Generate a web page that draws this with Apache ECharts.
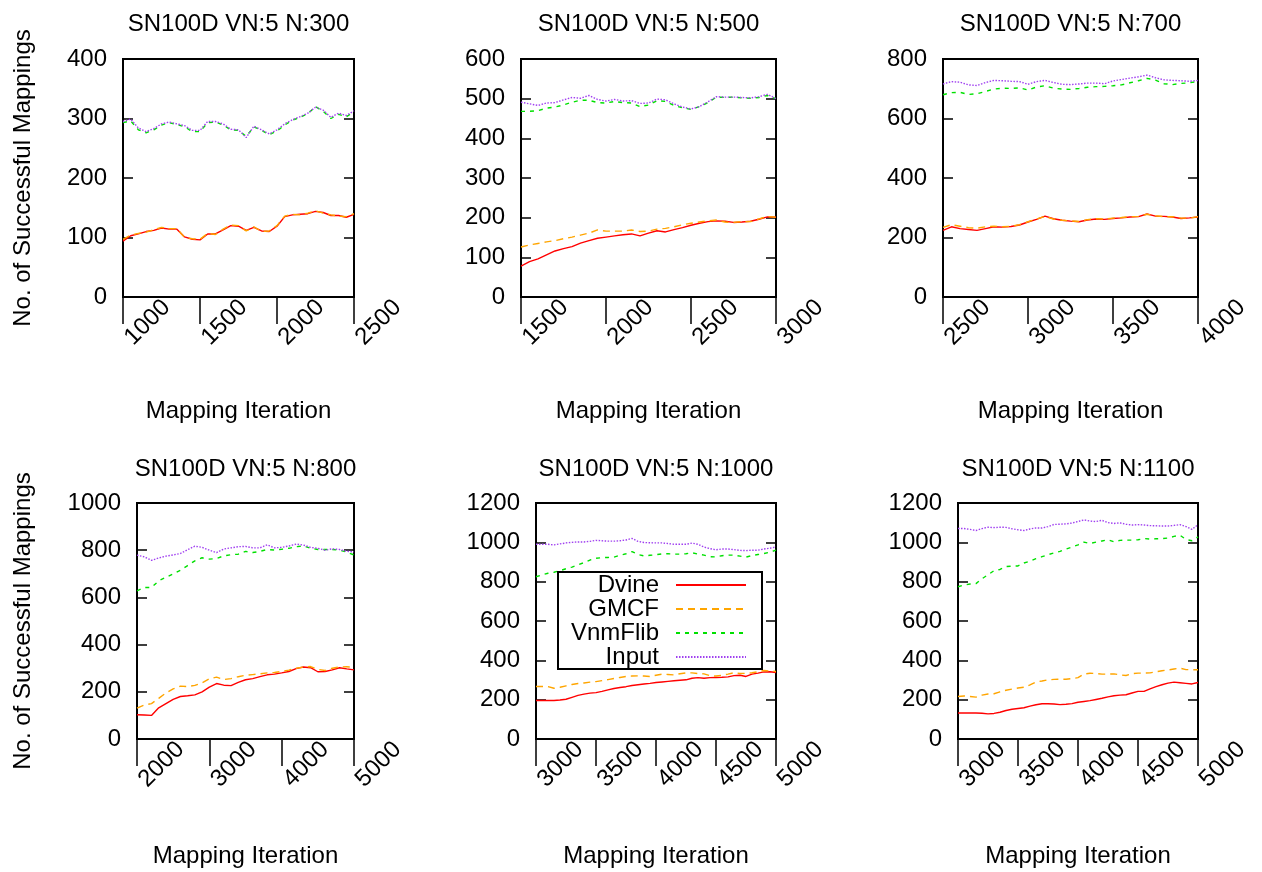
<!DOCTYPE html>
<html>
<head>
<meta charset="utf-8">
<script src="https://cdn.jsdelivr.net/npm/echarts@6/dist/echarts.min.js"></script>
<style>
html,body{margin:0;padding:0;background:#fff;}
#chart{width:1262px;height:872px;}
</style>
</head>
<body>
<div id="chart"></div>
<script>
// ---------- data ----------
const seriesNames = ['Dvine', 'GMCF', 'VnmFlib', 'Input'];
const titles = ['SN100D VN:5 N:300', 'SN100D VN:5 N:500', 'SN100D VN:5 N:700',
                'SN100D VN:5 N:800', 'SN100D VN:5 N:1000', 'SN100D VN:5 N:1100'];
const xAxisName = 'Mapping Iteration';
const yAxisName = 'No. of Successful Mappings';

const xs300 = [1000,1050,1100,1150,1200,1250,1300,1350,1400,1450,1500,1550,1600,1650,1700,1750,1800,1850,1900,1950,2000,2050,2100,2150,2200,2250,2300,2350,2400,2450,2500];
const dvine300 = [94,103,106,110,112,116,114,114,101,97,96,106,106,113,120,119,112,117,111,110,119,135,138,139,140,144,142,137,137,134,139];
const gmcf300  = [97,104,107,109,113,117,115,115,100,98,97,107,105,114,121,120,111,118,110,111,120,136,139,138,141,145,141,138,136,135,140];
const vnm300   = [293,296,281,276,281,289,293,290,286,278,278,293,294,289,281,280,270,286,280,273,279,289,297,302,308,320,312,300,307,303,311];
const input300 = [295,299,284,278,283,291,294,291,288,280,280,295,295,291,282,281,268,287,281,274,281,291,298,303,309,319,314,302,309,305,313];

const xs500 = [1500,1550,1600,1650,1700,1750,1800,1850,1900,1950,2000,2050,2100,2150,2200,2250,2300,2350,2400,2450,2500,2550,2600,2650,2700,2750,2800,2850,2900,2950,3000];
const dvine500 = [78,89,96,106,116,122,127,136,142,148,151,154,157,159,154,161,167,164,170,175,181,186,190,192,191,188,189,191,196,202,201];
const gmcf500  = [126,131,135,139,142,147,151,156,161,169,166,166,166,169,165,166,171,173,177,182,186,189,192,194,189,188,190,190,197,203,201];
const vnm500   = [468,468,470,476,479,484,491,496,496,490,489,493,490,489,480,484,495,493,483,477,473,480,490,504,503,504,502,501,503,508,500];
const input500 = [491,487,483,489,490,497,503,501,508,498,494,498,494,495,488,489,499,497,487,479,474,480,492,505,504,504,503,502,505,511,500];

const xs700 = [2500,2550,2600,2650,2700,2750,2800,2850,2900,2950,3000,3050,3100,3150,3200,3250,3300,3350,3400,3450,3500,3550,3600,3650,3700,3750,3800,3850,3900,3950,4000];
const dvine700 = [224,236,230,227,224,230,236,235,237,242,252,261,272,263,258,255,253,259,262,261,264,266,269,270,279,272,271,269,264,266,269];
const gmcf700  = [234,243,238,233,231,236,238,236,238,243,253,262,271,262,258,256,254,260,263,262,265,267,270,271,278,273,270,270,265,265,270];
const vnm700   = [680,687,688,681,683,691,699,702,701,703,696,706,710,702,699,698,701,705,707,708,710,713,720,727,735,729,717,714,718,720,725];
const input700 = [716,724,722,713,711,721,728,727,725,724,715,724,728,721,715,714,716,719,719,717,726,731,736,740,746,737,730,728,727,725,728];

const xs800 = [2000,2100,2200,2300,2400,2500,2600,2700,2800,2900,3000,3100,3200,3300,3400,3500,3600,3700,3800,3900,4000,4100,4200,4300,4400,4500,4600,4700,4800,4900,5000];
const dvine800 = [103,102,100,132,150,168,180,183,187,200,220,235,228,226,240,251,256,264,272,275,280,286,298,305,302,285,286,293,302,297,293];
const gmcf800  = [131,144,150,172,195,212,224,222,227,238,255,262,252,256,264,270,273,276,280,282,286,292,300,305,307,295,290,300,305,306,304];
const vnm800   = [628,642,642,670,685,700,715,735,755,768,762,765,776,781,783,795,790,795,803,801,804,808,815,818,808,803,803,803,800,792,780];
const input800 = [779,772,757,767,775,780,786,802,817,812,800,790,805,810,815,816,810,810,823,810,812,818,826,822,812,808,800,806,803,795,793];

const xs1000 = [3000,3050,3100,3150,3200,3250,3300,3350,3400,3450,3500,3550,3600,3650,3700,3750,3800,3850,3900,3950,4000,4050,4100,4150,4200,4250,4300,4350,4400,4450,4500,4550,4600,4650,4700,4750,4800,4850,4900,4950,5000];
const dvine1000 = [196,196,196,196,198,202,212,222,228,233,236,242,250,257,262,266,272,276,280,283,287,290,293,296,299,301,309,312,309,312,313,314,316,322,324,318,330,335,341,342,338];
const gmcf1000  = [267,267,266,258,263,270,277,282,285,289,292,297,302,308,313,318,320,321,320,318,324,330,328,326,332,336,336,333,331,322,320,324,330,337,333,334,337,342,348,346,343];
const vnm1000   = [825,834,843,848,856,866,874,885,897,910,919,922,923,925,934,942,953,938,931,934,937,941,942,940,940,942,947,940,935,927,926,932,935,935,930,925,933,938,943,950,960];
const input1000 = [990,990,990,987,992,997,1000,1002,1002,1005,1010,1008,1006,1006,1008,1012,1020,1005,999,998,997,997,994,990,990,990,996,990,976,968,962,966,966,963,959,958,960,960,966,970,977];

const xs1100 = [3000,3050,3100,3150,3200,3250,3300,3350,3400,3450,3500,3550,3600,3650,3700,3750,3800,3850,3900,3950,4000,4050,4100,4150,4200,4250,4300,4350,4400,4450,4500,4550,4600,4650,4700,4750,4800,4850,4900,4950,5000];
const dvine1100 = [132,132,132,132,131,128,130,136,145,151,155,159,167,174,179,179,178,175,177,180,187,191,195,201,207,214,220,223,225,234,242,242,255,266,276,284,289,286,283,280,287];
const gmcf1100  = [216,219,216,213,223,229,230,240,248,254,259,263,275,290,295,301,303,304,304,307,312,330,334,333,330,330,331,326,323,332,335,335,336,342,347,351,356,360,353,352,352];
const vnm1100   = [774,783,788,790,815,835,856,862,877,879,880,895,904,917,927,937,946,954,966,976,987,1001,994,1001,1007,1013,1003,1010,1011,1011,1013,1019,1017,1018,1019,1022,1030,1036,1015,1008,1028];
const input1100 = [1070,1070,1066,1060,1070,1077,1075,1077,1076,1069,1064,1060,1068,1073,1073,1080,1091,1092,1094,1098,1106,1114,1108,1106,1112,1100,1096,1099,1092,1088,1090,1088,1085,1084,1083,1083,1086,1090,1080,1066,1090];

// axis ranges per panel: [xMin, xMax, xInterval, yMax, yInterval]
const axisRanges = [
  [1000, 2500, 500, 400, 100],
  [1500, 3000, 500, 600, 100],
  [2500, 4000, 500, 800, 200],
  [2000, 5000, 1000, 1000, 200],
  [3000, 5000, 500, 1200, 200],
  [3000, 5000, 500, 1200, 200]
];
const panelXs = [xs300, xs500, xs700, xs800, xs1000, xs1100];
const panelValues = [
  [dvine300, gmcf300, vnm300, input300],
  [dvine500, gmcf500, vnm500, input500],
  [dvine700, gmcf700, vnm700, input700],
  [dvine800, gmcf800, vnm800, input800],
  [dvine1000, gmcf1000, vnm1000, input1000],
  [dvine1100, gmcf1100, vnm1100, input1100]
];

// ---------- layout / style ----------
const FONT = "'Liberation Sans', Arial, Helvetica, sans-serif";
const grids = [
  {left: 123, top: 59,  width: 231, height: 238},
  {left: 521, top: 59,  width: 255, height: 238},
  {left: 943, top: 59,  width: 255, height: 238},
  {left: 137, top: 503, width: 217, height: 236},
  {left: 536, top: 503, width: 240, height: 236},
  {left: 958, top: 503, width: 240, height: 236}
];
const styles = [
  {color: '#ff0000', type: 'solid'},
  {color: '#ffa500', type: [7, 5]},
  {color: '#00e000', type: [4, 5]},
  {color: '#a040f0', type: [1.5, 1.5]}
];
const plain = v => String(v);

const option = {
  animation: false,
  backgroundColor: '#fff',
  textStyle: {fontFamily: FONT},
  title: [], grid: [], xAxis: [], yAxis: [], series: [], legend: [],
  graphic: []
};

grids.forEach((g, i) => {
  const [xMin, xMax, xInt, yMax, yInt] = axisRanges[i];
  const row = i < 3 ? 0 : 1;
  option.title.push({
    text: titles[i], left: g.left + g.width / 2, top: row === 0 ? 12 : 457,
    textAlign: 'center', padding: 0,
    textStyle: {fontSize: 24, fontWeight: 'normal', color: '#000', fontFamily: FONT}
  });
  option.grid.push({
    left: g.left, top: g.top, width: g.width, height: g.height,
    show: true, borderColor: '#000', borderWidth: 2, backgroundColor: 'transparent'
  });
  option.xAxis.push({
    gridIndex: i, type: 'value', min: xMin, max: xMax, interval: xInt,
    axisLine: {show: false},
    axisTick: {show: true, inside: false, length: 27, lineStyle: {color: '#000', width: 1.5}},
    splitLine: {show: false},
    axisLabel: {rotate: 45, align: 'left', verticalAlign: 'middle', margin: 50, padding: [0, 0, 0, 8],
                fontSize: 24, color: '#000', fontFamily: FONT, showMinLabel: true, showMaxLabel: true,
                formatter: plain},
    name: xAxisName, nameLocation: 'middle', nameGap: row === 0 ? 102 : 105,
    nameTextStyle: {fontSize: 24, color: '#000', fontFamily: FONT}
  });
  const yLeft = {
    gridIndex: i, type: 'value', min: 0, max: yMax, interval: yInt,
    axisLine: {show: false},
    axisTick: {show: true, inside: true, length: 10, lineStyle: {color: '#000', width: 1.5}},
    splitLine: {show: false},
    axisLabel: {margin: 16, fontSize: 24, color: '#000', fontFamily: FONT, formatter: plain}
  };
  if (i % 3 === 0) {
    yLeft.name = yAxisName;
    yLeft.nameLocation = 'middle';
    yLeft.nameGap = g.left - 35;
    yLeft.nameTextStyle = {fontSize: 24, color: '#000', fontFamily: FONT};
  }
  option.yAxis.push(yLeft);
  option.yAxis.push({
    gridIndex: i, type: 'value', position: 'right', min: 0, max: yMax, interval: yInt,
    axisLine: {show: false},
    axisTick: {show: true, inside: true, length: 10, lineStyle: {color: '#000', width: 1.5}},
    splitLine: {show: false},
    axisLabel: {show: false}
  });
  seriesNames.forEach((name, s) => {
    const xs = panelXs[i];
    const vals = panelValues[i][s];
    option.series.push({
      type: 'line', name: name, xAxisIndex: i, yAxisIndex: 2 * i,
      data: xs.map((x, k) => [x, vals[k]]),
      symbol: 'none', showSymbol: false, z: 2 + s,
      lineStyle: {color: styles[s].color, width: 1.4, type: styles[s].type},
      itemStyle: {color: styles[s].color}
    });
  });
});

// legend in the N:1000 panel
const legendRowTops = [573, 597, 621, 645];
seriesNames.forEach((name, s) => {
  option.legend.push({
    data: [name], selectedMode: false, orient: 'vertical', align: 'right',
    right: 1262 - 747, top: legendRowTops[s], padding: 0,
    itemWidth: 70, itemHeight: 24,
    itemStyle: {opacity: 0, borderWidth: 0},
    textStyle: {fontSize: 24, color: '#000', fontFamily: FONT, padding: [0, 12, 0, 0]}
  });
});
option.graphic.push({
  type: 'rect', shape: {x: 558, y: 572, width: 204, height: 97},
  style: {fill: 'none', stroke: '#000', lineWidth: 2}, z: 100
});

const chart = echarts.init(document.getElementById('chart'), null, {renderer: 'canvas'});
chart.setOption(option);
</script>
</body>
</html>
